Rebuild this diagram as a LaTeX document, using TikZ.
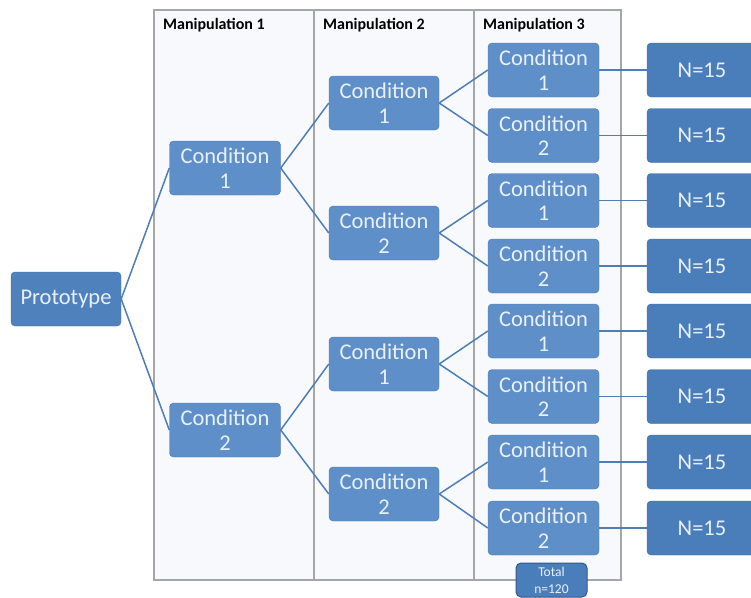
\documentclass[tikz,border=0pt]{standalone}
\usepackage{fontspec}
\setmainfont{Carlito}
\definecolor{protoblue}{HTML}{4F81BD}
\definecolor{condblue}{HTML}{5E8FC8}
\definecolor{nblue}{HTML}{4A7EBB}
\definecolor{linkblue}{HTML}{4F7DB5}
\definecolor{paneline}{HTML}{A6A6A6}
\definecolor{panefill}{HTML}{F7F9FD}
\definecolor{boxtext}{HTML}{EAF0F8}
\tikzset{
  box/.style={rounded corners=4pt, text=boxtext, align=center, inner sep=0pt,
    font=\fontsize{22.5}{24.5}\selectfont, draw=#1!85!black, line width=0.4pt, fill=#1},
  condbox/.style={box=condblue, minimum width=111pt, minimum height=54pt},
  nbox/.style={box=nblue, minimum width=110pt, minimum height=54pt},
  link/.style={draw=linkblue, line width=1.5pt},
  pane/.style={draw=paneline, line width=2pt, fill=panefill},
  header/.style={font=\fontsize{16}{18}\bfseries\selectfont, anchor=base west, inner sep=0pt}
}
\begin{document}
\begin{tikzpicture}[x=1pt,y=-1pt]
\useasboundingbox (0,0) rectangle (751,597);
\clip (0,0) rectangle (751,597);
% panes
\path[pane] (154,10) rectangle (314,580);
\path[pane] (314,10) rectangle (474,580);
\path[pane] (474,10) rectangle (621,580);
\node[header] (h1) at (163,29) {Manipulation 1};
\node[header] (h2) at (323,29) {Manipulation 2};
\node[header] (h3) at (483,29) {Manipulation 3};
% prototype
\node[box=protoblue, minimum width=110pt, minimum height=54pt] (p) at (66,299) {Prototype};
% level 1
\node[condbox] (a1) at (225,168) {Condition\\1};
\node[condbox] (a2) at (225,430) {Condition\\2};
% level 2
\node[condbox, minimum width=110pt] (b1) at (384,103) {Condition\\1};
\node[condbox, minimum width=110pt] (b2) at (384,233) {Condition\\2};
\node[condbox, minimum width=110pt] (b3) at (384,364) {Condition\\1};
\node[condbox, minimum width=110pt] (b4) at (384,494) {Condition\\2};
% level 3
\foreach \i/\y/\t in {1/70/1,2/135.5/2,3/200.5/1,4/266/2,5/331/1,6/396.5/2,7/462/1,8/528/2}{
  \node[condbox] (c\i) at (543.5,\y) {Condition\\\t};
  \node[nbox] (n\i) at (702,\y) {N=15};
  \draw[link] (c\i.east) -- (n\i.west);
}
% links
\draw[link] (p.east) -- (a1.west);
\draw[link] (p.east) -- (a2.west);
\draw[link] (a1.east) -- (b1.west);
\draw[link] (a1.east) -- (b2.west);
\draw[link] (a2.east) -- (b3.west);
\draw[link] (a2.east) -- (b4.west);
\draw[link] (b1.east) -- (c1.west);
\draw[link] (b1.east) -- (c2.west);
\draw[link] (b2.east) -- (c3.west);
\draw[link] (b2.east) -- (c4.west);
\draw[link] (b3.east) -- (c5.west);
\draw[link] (b3.east) -- (c6.west);
\draw[link] (b4.east) -- (c7.west);
\draw[link] (b4.east) -- (c8.west);
% total
\node[box=nblue, draw=nblue!70!black, line width=1pt, font=\fontsize{13.5}{17}\selectfont, minimum width=71pt, minimum height=34pt, rounded corners=5pt] (tot) at (551.5,580) {Total\\n=120};
\end{tikzpicture}
\end{document}
